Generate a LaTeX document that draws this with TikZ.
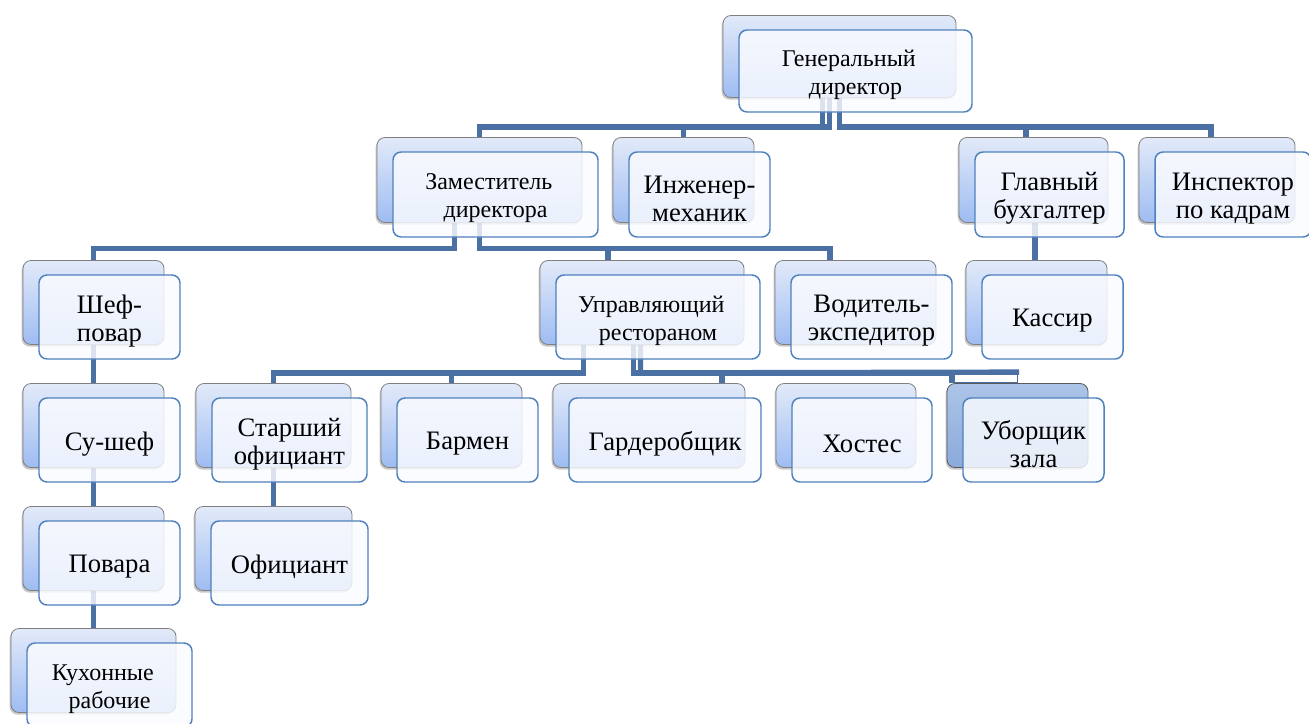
\documentclass[tikz,border=0pt]{standalone}
\usepackage{fontspec}
\setmainfont{Liberation Serif}
\usetikzlibrary{shadows}
\definecolor{conncol}{RGB}{74,112,164}
\definecolor{frontline}{RGB}{79,129,189}
\definecolor{frontfill}{RGB}{251,252,255}
\definecolor{backtop}{RGB}{226,234,249}
\definecolor{backbot}{RGB}{158,188,242}
\definecolor{backline}{RGB}{128,128,128}
\definecolor{selbacktop}{RGB}{172,197,232}
\definecolor{selbackbot}{RGB}{138,170,218}
\definecolor{selbackline}{RGB}{90,90,90}
\pgfdeclarelayer{connlayer}
\pgfdeclarelayer{backlayer}
\pgfsetlayers{connlayer,backlayer,main}
\newcommand\tsp{\kern10pt}
\tikzset{
  frontbox/.style={draw=frontline, line width=1.1pt, rounded corners=6pt,
    fill=frontfill, fill opacity=0.82, inner sep=0pt},
  labeltext/.style={align=center, inner sep=0pt, text=black},
  backshadow/.style={drop shadow={shadow xshift=-1pt, shadow yshift=-1.6pt, fill=black, opacity=0.22}},
  backbox/.style={draw=backline, line width=0.6pt, rounded corners=6pt,
    top color=backtop, bottom color=backbot, inner sep=0pt, backshadow},
  selbackbox/.style={draw=selbackline, line width=0.6pt, rounded corners=6pt,
    top color=selbacktop, bottom color=selbackbot, inner sep=0pt, backshadow},
  txtS/.style={font=\fontsize{18pt}{21pt}\selectfont},
  txtL/.style={font=\fontsize{20pt}{21pt}\selectfont},
  conn/.style={draw=conncol, line width=4pt},
  hollow/.style={draw=conncol, line width=0.8pt}
}
% #1 text style, #2 back style, #3 name, #4 x, #5 y, #6 w, #7 h, #8 text
\newcommand\orgnode[8]{%
  \node[frontbox, minimum width=#6*0.75pt, minimum height=#7*0.75pt] (#3) at (#4,#5) {};
  \node[labeltext, #1] (#3-t) at ([shift={(0,4)}]#3.center) {#8};
  \begin{pgfonlayer}{backlayer}
    \node[#2, minimum width=#6*0.75pt, minimum height=#7*0.75pt] (#3-b) at ([shift={(-16,-14.5)}]#3.center) {};
  \end{pgfonlayer}
}
\begin{document}
\begin{tikzpicture}[x=0.75pt,y=-0.75pt]
\useasboundingbox (0,0) rectangle (1309,724);
\clip (0,0) rectangle (1309,724);
\begin{pgfonlayer}{connlayer}
  \fill[white] (0,0) rectangle (1309,724);
\end{pgfonlayer}

\orgnode{txtS}{backbox}{gd}{855.5}{71}{233}{82}{Генеральный\tsp\\директор}
\orgnode{txtS}{backbox}{zam}{495.5}{194.5}{205}{85}{Заместитель\tsp\\директора}
\orgnode{txtL}{backbox}{ing}{699.5}{194.5}{141}{85}{Инженер-\\механик}
\orgnode{txtL}{backbox}{glb}{1049.5}{194.5}{149}{85}{Главный\\бухгалтер}
\orgnode{txtL}{backbox}{insp}{1233}{194.5}{156}{85}{Инспектор\\по кадрам}
\orgnode{txtL}{backbox}{kas}{1052.5}{317}{141}{84}{Кассир}
\orgnode{txtL}{backbox}{shef}{109.5}{317}{141}{84}{Шеф-\\повар}
\orgnode{txtS}{backbox}{upr}{658}{317}{204}{84}{Управляющий\tsp\\рестораном}
\orgnode{txtL}{backbox}{vod}{871.5}{317}{161}{84}{Водитель-\\экспедитор}
\orgnode{txtL}{backbox}{sushef}{109.5}{440}{141}{84}{Су-шеф}
\orgnode{txtL}{backbox}{povara}{109.5}{563}{141}{84}{Повара}
\orgnode{txtS}{backbox}{kuh}{109.5}{685}{165}{84}{Кухонные\tsp\\рабочие}
\orgnode{txtL}{backbox}{star}{289.5}{440}{155}{84}{Старший\\официант}
\orgnode{txtL}{backbox}{barm}{467.5}{440}{141}{84}{Бармен}
\orgnode{txtL}{backbox}{gard}{665}{440}{192}{84}{Гардеробщик}
\orgnode{txtL}{backbox}{host}{862}{440}{140}{84}{Хостес}
\orgnode{txtL}{selbackbox}{ubor}{1033.5}{440}{141}{84}{Уборщик\\зала}
\orgnode{txtL}{backbox}{ofic}{289.5}{563}{157}{84}{Официант}

\begin{pgfonlayer}{connlayer}
  % from general director
  \draw[conn] (gd-b.south) -- ++(0,29) -| ([shift={(-7.5,0)}]glb-b.north);
  \draw[conn] (gd-b.south) -- ++(0,29) -| ([shift={(-6,0)}]insp-b.north);
  \draw[conn] ([shift={(-10,0)}]gd-b.south) -- ++(0,29) -| (zam-b.north);
  \draw[conn] ([shift={(-17,0)}]gd-b.south) -- ++(0,29) -| (ing-b.north);
  % from deputy director
  \draw[conn] ([shift={(-25,0)}]zam-b.south) -- ++(0,25.5) -| (shef-b.north);
  \draw[conn] (zam-b.south) -- ++(0,25.5) -| ([shift={(-34,0)}]upr-b.north);
  \draw[conn] (zam-b.south) -- ++(0,25.5) -| ([shift={(-25.5,0)}]vod-b.north);
  % from restaurant manager
  \draw[conn] ([shift={(-58.5,0)}]upr-b.south) -- ++(0,28) -| (star-b.north);
  \draw[conn] ([shift={(-58.5,0)}]upr-b.south) -- ++(0,28) -| (barm-b.north);
  \draw[conn] ([shift={(-8.5,0)}]upr-b.south) -- ++(0,28) -| ([shift={(73,0)}]gard-b.north);
  \draw[conn] ([shift={(-1.5,0)}]upr-b.south) -- ++(0,28) -| ([shift={(-65.5,0)}]ubor-b.north);
  \draw[conn] ([shift={(-1.5,0)}]upr-b.south) -- ++(0,28) -- ([shift={(1.5,-11)}]ubor-b.north);
  \draw[hollow] ([shift={(-63,-1)}]ubor-b.north) -| ([shift={(0,-12)}]ubor-b.north);
  % vertical chains
  \draw[conn] (shef-b.south) -- (sushef-b.north);
  \draw[conn] (sushef-b.south) -- (povara-b.north);
  \draw[conn] (povara-b.south) -- (kuh-b.north);
  \draw[conn] (star-b.south) -- (ofic-b.north);
  \draw[conn] ([shift={(1.5,0)}]glb-b.south) -- ([shift={(-1.5,0)}]kas-b.north);
\end{pgfonlayer}
\end{tikzpicture}
\end{document}
